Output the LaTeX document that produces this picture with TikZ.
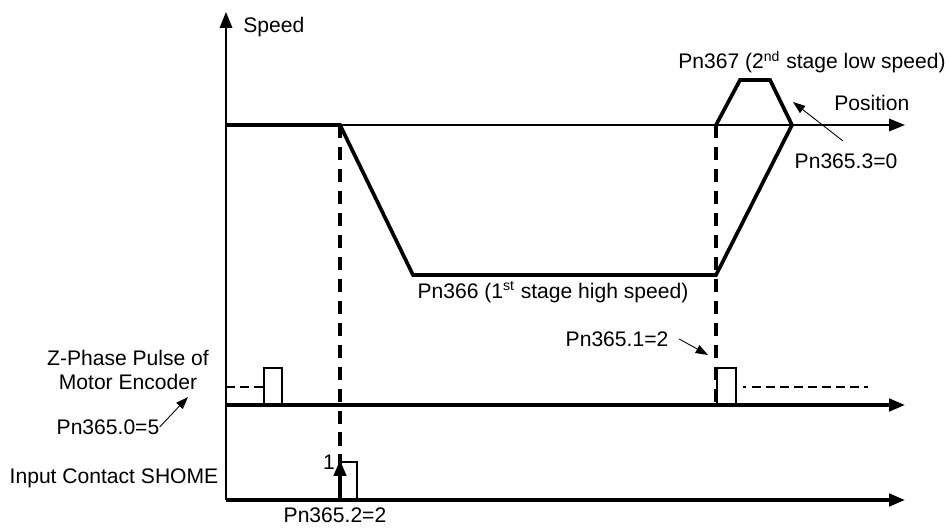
\documentclass[tikz,border=0pt]{standalone}
\usepackage{fontspec}
\setmainfont{Liberation Sans}
\usetikzlibrary{arrows.meta,positioning}

\tikzset{
  axis/.style={line width=1.9pt,-{Triangle[length=9pt,width=7pt]}},
  profile/.style={line width=2.1pt,line join=miter},
  pulse/.style={line width=1.4pt},
  guide/.style={line width=2pt,dash pattern=on 7.5pt off 5pt},
  hint/.style={line width=0.5pt,-{Triangle[length=7pt,width=5pt]}},
  lbl/.style={inner sep=0pt}
}

\begin{document}
\begin{tikzpicture}[x=0.02cm,y=-0.02cm, every node/.style={font=\fontsize{12}{14}\selectfont}]
  \useasboundingbox (0,0) rectangle (949,527);
  % axes
  \coordinate (o) at (226,500);
  \coordinate (top) at (226,12);
  \coordinate (p0) at (226,125);  \coordinate (p1) at (905,125);
  \coordinate (z0) at (226,405);  \coordinate (z1) at (905,405);
  \coordinate (s1) at (905,500);
  \draw[axis,line width=1.2pt] (o) -- (top);
  \draw[axis,line width=1.1pt] (p0) -- (p1);
  \draw[axis] (z0) -- (z1);
  \draw[axis] (o) -- (s1);
  % speed profile
  \coordinate (a) at (340,125);  \coordinate (b) at (413,275);
  \coordinate (c) at (716,275);  \coordinate (d) at (792,125);
  \coordinate (e) at (740,80);   \coordinate (f) at (770,80);
  \coordinate (g) at (716,125);
  \draw[profile] (p0) -- (a) -- (b) -- (c) -- (d) -- (f) -- (e) -- (g);
  % guides
  \coordinate (a1) at (340,498);  \coordinate (g1) at (716,405);
  \draw[guide] (a) -- (a1);
  \draw[guide] (g) -- (g1);
  % z-phase pulses
  \draw[pulse] (264,405) -- (264,368) -- (282,368) -- (282,405);
  \draw[pulse] (717,405) -- (717,368) -- (736,368) -- (736,405);
  \draw[pulse,dash pattern=on 5pt off 3pt] (226,387) -- (263,387);
  \draw[pulse] (743,387) -- (746,387);
  \draw[pulse,dash pattern=on 5pt off 3pt] (752,387) -- (868,387);
  % shome pulse
  \draw[pulse] (340,462) -- (357,462) -- (357,500);
  \coordinate (up) at (340,460);
  \draw[line width=1.9pt,-{Triangle[length=9pt,width=7pt]}] (o -| a) -- (up);
  % labels
  \node[lbl,anchor=west] (speed) at (243,27) {Speed};
  \node[lbl,anchor=west] (pos) at (834,103) {Position};
  \node[lbl] (low) at (812,62) {Pn367 (2\textsuperscript{nd} stage low speed)};
  \node[lbl] (high) at (553,292) {Pn366 (1\textsuperscript{st} stage high speed)};
  \node[lbl] (n3) at (846,161) {Pn365.3=0};
  \node[lbl] (n1) at (617,339) {Pn365.1=2};
  \node[lbl,align=center] (zp) at (128,370) {Z-Phase Pulse of\\Motor Encoder};
  \node[lbl] (n0) at (108,427) {Pn365.0=5};
  \node[lbl] (sh) at (114,478) {Input Contact SHOME};
  \node[lbl] (one) at (329,462) {1};
  \node[lbl] (n2) at (335,515) {Pn365.2=2};
  % pointers
  \coordinate (t3) at (793,102);
  \coordinate (t1) at (708,355);
  \coordinate (t0) at (188,397);
  \draw[hint] (843,141) -- (t3);
  \draw[hint] (n1.east) ++(6pt,0) -- (t1);
  \draw[hint] (n0.east) -- (t0);
\end{tikzpicture}
\end{document}
